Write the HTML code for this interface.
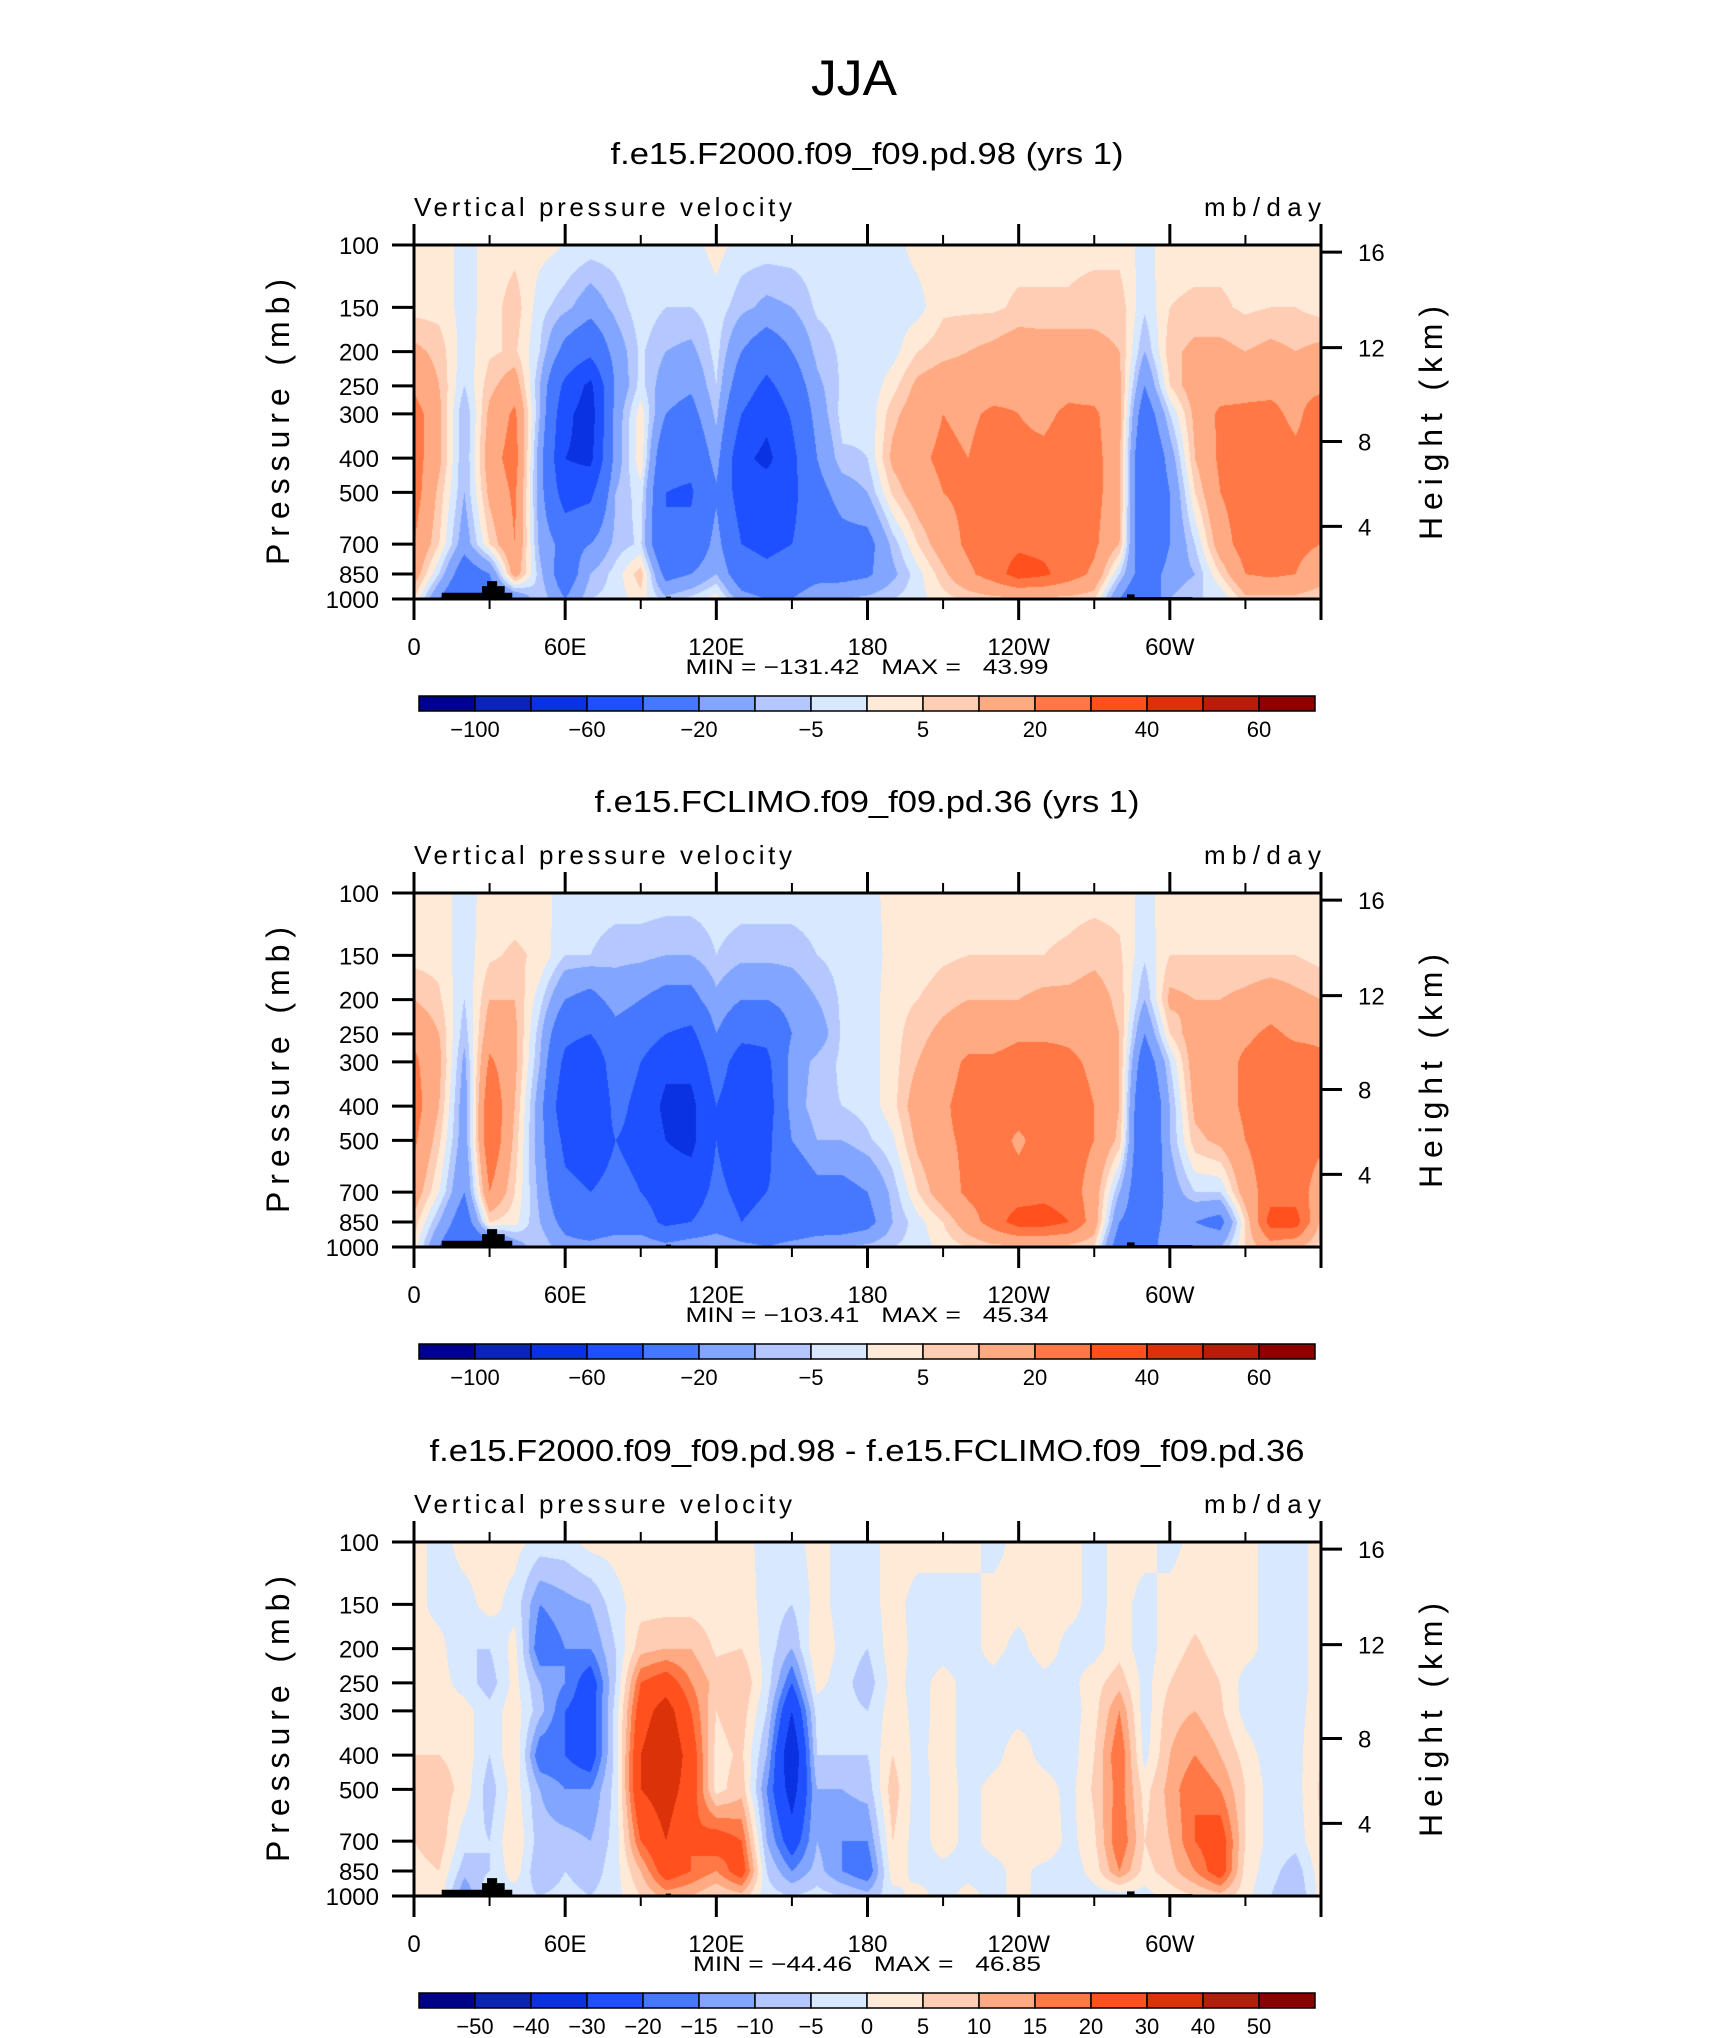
<!DOCTYPE html>
<html><head><meta charset="utf-8"><style>
body{margin:0;background:#fff;}
#wrap{position:relative;width:1710px;height:2038px;overflow:hidden;background:#fff;}
canvas{position:absolute;}
svg{position:absolute;left:0;top:0;}
text{font-family:"Liberation Sans",sans-serif;fill:#000;}
</style></head><body>
<div id="wrap">
<canvas id="c0" width="907" height="354" style="left:414px;top:245px"></canvas>
<canvas id="c1" width="907" height="354" style="left:414px;top:893px"></canvas>
<canvas id="c2" width="907" height="354" style="left:414px;top:1542px"></canvas>
<svg id="svg" width="1710" height="2038"></svg>
</div>
<script>
const pLevels=[100,150,200,250,300,400,500,700,850,1000];
const lonStep=10;
const levA=[-100,-80,-60,-40,-20,-10,-5,0,5,10,20,30,40,50,60];
const levD=[-50,-40,-30,-20,-15,-10,-5,0,5,10,15,20,30,40,50];
const labA=['−100','','−60','','−20','','−5','','5','','20','','40','','60'];
const labD=['−50','−40','−30','−20','−15','−10','−5','0','5','10','15','20','30','40','50'];
const palette=['#00018c','#0a24b4','#0a32e1','#1e50ff','#4678ff','#82a5ff','#b4c8ff','#d7e8ff','#ffead8','#ffcdb4','#ffaa82','#ff7846','#ff501e','#dc320a','#b41e0a','#8c0000'];
const titles=['f.e15.F2000.f09_f09.pd.98 (yrs 1)','f.e15.FCLIMO.f09_f09.pd.36 (yrs 1)','f.e15.F2000.f09_f09.pd.98 - f.e15.FCLIMO.f09_f09.pd.36'];
const titleLen=[513,545,875];
const minmax=['MIN = −131.42   MAX =   43.99','MIN = −103.41   MAX =   45.34','MIN = −44.46   MAX =   46.85'];
const minmaxLen=[363,363,348];
// fields: one row per longitude (0..360 step 10), values from 100mb to 1000mb
const panel1=[
[2,3,12,18,25,25,25,20,15,5],[3,3,8,10,12,12,8,5,-5,-20],[-2,-2,-3,-5,-10,-10,-10,-15,-30,-40],
[2,2,4,8,12,15,12,5,-20,-30],[3,8,6,15,22,25,22,20,15,-20],[2,-3,-5,-10,-10,-15,-15,-12,-8,-5],
[0,-8,-25,-45,-55,-60,-50,-25,-30,-20],[-2,-15,-35,-65,-70,-65,-45,-20,-10,-5],[-2,-8,-15,-18,-15,-15,-10,-8,-3,-3],
[0,-2,-4,-3,3,4,-2,-4,8,3],[-2,-5,-10,-15,-20,-35,-40,-40,-25,-8],[-2,-5,-12,-18,-25,-35,-42,-35,-20,-3],
[2,-2,-3,-5,-8,-15,-22,-15,-10,3],[-2,-8,-20,-30,-40,-55,-50,-40,-30,-15],[-2,-12,-30,-45,-55,-65,-50,-45,-35,-20],
[-2,-10,-20,-30,-38,-45,-45,-40,-30,-20],[-2,-4,-8,-12,-15,-20,-25,-30,-25,-12],[-2,-3,-4,-4,-3,-6,-15,-25,-25,-10],
[-2,-3,-4,-4,-4,-5,-10,-25,-22,-8],[-2,-3,-2,3,8,12,6,-8,-12,-5],[2,-2,5,12,15,18,15,5,-2,-2],
[3,4,8,15,20,22,20,15,8,3],[3,4,10,15,18,20,22,22,18,6],[3,4,12,15,22,25,25,25,25,8],
[3,6,15,17,20,22,25,28,35,8],[3,6,14,16,18,22,25,27,32,8],[3,6,14,17,22,25,25,25,25,8],
[3,8,12,15,22,24,24,22,18,6],[3,8,10,12,12,12,12,10,-5,-20],[-2,-4,-10,-20,-30,-40,-40,-40,-30,-40],
[3,5,8,5,-5,-15,-20,-20,-15,-10],[3,6,12,15,12,10,5,-5,-10,-5],[3,6,12,15,22,22,20,15,5,-5],
[3,4,10,17,22,25,25,25,20,8],[2,5,12,18,22,25,25,25,22,8],[2,5,10,18,18,22,22,22,20,8],
[2,3,12,18,25,25,25,20,15,5]];
const panel2=[
[2,3,10,18,22,25,22,15,8,3],[2,3,6,10,12,10,6,0,-10,-20],[-2,-3,-5,-8,-12,-15,-15,-20,-30,-40],
[2,4,10,15,22,30,30,20,5,-30],[2,6,10,12,12,10,8,5,2,-15],[2,4,-3,-8,-10,-15,-15,-12,-10,-5],
[-2,-5,-20,-35,-45,-55,-45,-35,-25,-15],[-2,-5,-25,-40,-55,-60,-50,-40,-35,-15],[-2,-8,-15,-25,-30,-35,-40,-35,-30,-10],
[-2,-8,-20,-30,-40,-45,-45,-40,-30,-10],[-2,-10,-25,-40,-55,-65,-60,-50,-45,-15],[-2,-10,-25,-45,-55,-65,-65,-50,-40,-10],
[-2,-5,-12,-20,-30,-40,-40,-35,-30,-8],[-2,-8,-20,-35,-50,-55,-55,-45,-40,-15],[-2,-8,-20,-35,-45,-50,-45,-40,-35,-20],
[-2,-8,-15,-20,-15,-15,-20,-35,-35,-15],[-2,-5,-10,-15,-8,-6,-10,-25,-30,-12],[-2,-3,-4,-4,-4,-5,-10,-25,-30,-10],
[-2,-3,-3,-3,-3,-3,-6,-20,-25,-8],[2,2,3,3,3,3,-1,-8,-10,-5],[2,2,5,8,10,15,12,5,-2,-3],
[2,4,8,12,15,18,18,15,5,2],[3,5,10,15,22,25,22,22,15,5],[3,5,10,15,22,25,25,25,25,8],
[3,5,10,18,25,25,18,25,35,8],[3,5,12,18,25,25,25,27,35,8],[3,6,12,18,22,25,25,25,30,8],
[3,8,14,16,18,20,20,15,15,5],[3,6,8,10,10,10,8,-10,-20,-30],[-2,-4,-10,-20,-30,-40,-40,-35,-30,-30],
[3,5,12,5,-5,-10,-10,-15,-15,-10],[3,5,10,15,15,12,8,-5,-20,-10],[3,5,10,15,15,15,12,-5,-25,-10],
[3,5,12,18,22,22,20,15,5,5],[2,5,15,22,25,25,25,25,35,15],[2,5,12,18,25,25,25,25,35,12],
[2,3,10,18,22,25,22,15,8,3]];
const panel3=[
[2,2,2,2,3,5,6,5,3,2],[-2,-2,2,2,2,5,8,8,5,3],[2,-2,-5,-2,2,3,3,-3,-8,-15],
[2,2,-5,-8,-3,-5,-8,-5,-5,0],[2,-2,2,2,3,5,3,5,3,-3],[-2,-15,-20,-10,-8,-20,-10,-8,-10,-5],
[-2,-12,-15,-15,-20,-20,-15,-8,-5,-3],[2,-10,-15,-25,-25,-25,-15,-10,-8,-5],[2,-2,-5,-5,-3,-3,-3,-3,-2,-2],
[2,3,8,20,25,30,30,20,10,5],[2,3,10,25,35,40,35,30,25,12],[2,3,10,15,20,25,25,20,20,10],
[2,2,4,8,5,3,3,25,15,5],[2,3,5,10,8,6,8,20,25,8],[-2,-2,-2,-2,-5,-10,-15,-10,-5,-3],
[-2,-5,-10,-20,-30,-40,-35,-25,-15,-5],[2,2,5,2,-3,-5,-10,-10,-8,-3],[-2,-2,-2,-3,-3,-5,-10,-15,-15,-5],
[-2,-2,-5,-8,-5,-5,-8,-15,-20,-8],[2,2,3,2,3,5,8,5,3,-2],[2,-2,-2,-2,-2,-2,-3,-3,-2,2],
[2,-2,-2,2,2,3,3,3,-2,-2],[2,-2,-2,-2,-2,-3,-2,-2,-2,2],[-2,2,2,-2,-2,-2,2,2,-2,-2],
[2,2,-2,-5,-2,3,3,2,2,2],[2,2,3,-2,-2,-2,3,5,-2,-2],[2,2,-2,-2,-3,-3,-2,-2,-3,-3],
[-2,-2,-2,3,3,5,6,4,2,-2],[2,2,3,8,15,20,18,20,15,-3],[2,-2,-3,-2,-3,-2,3,5,3,-2],
[-2,2,3,5,8,10,12,10,8,2],[2,3,6,8,10,15,20,20,15,5],[2,3,3,5,6,10,15,25,25,8],
[2,2,2,-2,-2,3,5,5,3,2],[-2,-2,-2,-2,-5,-3,-2,-2,-3,-5],[-2,-2,-2,-2,-2,-2,-2,-3,-8,-10],
[2,2,2,2,3,5,6,5,3,2]];
const heightTicks=[16,12,8,4];
const heightFrac=[0.02,0.29,0.555,0.795];
const lonLabels=['0','60E','120E','180','120W','60W'];

const W=907,H=354,X0=414,Ys=[245,893,1542];
const xOf=lon=>X0+lon/360*W;
const yOfP=(p,top)=>top+Math.log10(p/100)*H;
function colorIdx(v,lev){let i=0;while(i<lev.length&&v>=lev[i])i++;return i;}
function hexRgb(h){return [parseInt(h.slice(1,3),16),parseInt(h.slice(3,5),16),parseInt(h.slice(5,7),16)];}
const pal=palette.map(hexRgb);
const logL=pLevels.map(p=>Math.log10(p/100));
function drawField(cid,field,lev){
  const c=document.getElementById(cid),ctx=c.getContext('2d');
  const img=ctx.createImageData(W,H);
  for(let py=0;py<H;py++){
    const s=(py+0.5)/H;let k=0;while(k<logL.length-2&&s>logL[k+1])k++;
    const tv=Math.min(1,Math.max(0,(s-logL[k])/(logL[k+1]-logL[k])));
    for(let px=0;px<W;px++){
      const lon=(px+0.5)/W*360,i=Math.min(field.length-2,Math.floor(lon/lonStep)),th=lon/lonStep-i;
      const a=field[i][k]*(1-tv)+field[i][k+1]*tv,b=field[i+1][k]*(1-tv)+field[i+1][k+1]*tv;
      const v=a*(1-th)+b*th;const col=pal[colorIdx(v,lev)];
      const o=(py*W+px)*4;img.data[o]=col[0];img.data[o+1]=col[1];img.data[o+2]=col[2];img.data[o+3]=255;
    }
  }
  ctx.putImageData(img,0,0);
}
drawField('c0',panel1,levA);drawField('c1',panel2,levA);drawField('c2',panel3,levD);

const svg=document.getElementById('svg');const NS='http://www.w3.org/2000/svg';
function mk(tag,attrs,parent){const e=document.createElementNS(NS,tag);for(const k in attrs)e.setAttribute(k,attrs[k]);(parent||svg).appendChild(e);return e;}
function txt(s,attrs,parent){const e=mk('text',attrs,parent);e.textContent=s;return e;}

const t0=txt('JJA',{x:854,y:95,'font-size':50,'text-anchor':'middle',fill:'#333','textLength':86,'lengthAdjust':'spacingAndGlyphs'});



for(let n=0;n<3;n++){
  const top=Ys[n],bot=top+H,dy=n===2?1297:n*648;
  const g=mk('g',{});
  
  
  const tt=txt(titles[n],{x:867,y:164+dy,'font-size':31,'text-anchor':'middle',textLength:titleLen[n],lengthAdjust:'spacingAndGlyphs'},g);
  
  
  const vl=txt('Vertical pressure velocity',{x:414,y:216+dy,'font-size':26,textLength:378,lengthAdjust:'spacing'},g);
  
  
  const ul=txt('mb/day',{x:1321,y:216+dy,'font-size':26,'text-anchor':'end',textLength:117,lengthAdjust:'spacing'},g);
  
  
  const topo=mk('path',{d:`M${xOf(11)},${bot} L${xOf(11)},${yOfP(960,top)} L${xOf(27)},${yOfP(960,top)} L${xOf(27)},${yOfP(920,top)} L${xOf(29)},${yOfP(920,top)} L${xOf(29)},${yOfP(890,top)} L${xOf(33)},${yOfP(890,top)} L${xOf(33)},${yOfP(920,top)} L${xOf(36)},${yOfP(920,top)} L${xOf(36)},${yOfP(960,top)} L${xOf(39)},${yOfP(960,top)} L${xOf(39)},${bot} Z M${xOf(100)},${bot} L${xOf(100)},${yOfP(985,top)} L${xOf(102)},${yOfP(985,top)} L${xOf(102)},${bot} Z M${xOf(283)},${bot} L${xOf(283)},${yOfP(970,top)} L${xOf(286)},${yOfP(970,top)} L${xOf(286)},${yOfP(988,top)} L${xOf(309)},${yOfP(988,top)} L${xOf(309)},${bot} Z`,fill:'#000'},g);
  
  
  const fr=mk('rect',{x:X0,y:top,width:W,height:H,fill:'none',stroke:'#000','stroke-width':3},g);
  
  
  for(let lon=0;lon<=360;lon+=30){
    const major=lon%60===0,len=major?21:10,x=xOf(lon);
    const a=mk('line',{x1:x,x2:x,y1:top,y2:top-len,stroke:'#000','stroke-width':major?3:2},g);
    
    
    const b=mk('line',{x1:x,x2:x,y1:bot,y2:bot+len,stroke:'#000','stroke-width':major?3:2},g);
    
    
  }
  lonLabels.forEach((s,i)=>{
    const l=txt(s,{x:xOf(i*60),y:655+dy,'font-size':24,'text-anchor':'middle'},g);
    
    
  });
  pLevels.forEach(p=>{
    const y=yOfP(p,top);
    const t=mk('line',{x1:X0-22,x2:X0,y1:y,y2:y,stroke:'#000','stroke-width':3},g);
    
    
    const l=txt(String(p),{x:379,y:y+9,'font-size':24,'text-anchor':'end'},g);
    
    
  });
  heightTicks.forEach((h,i)=>{
    const y=top+heightFrac[i]*H;
    const t=mk('line',{x1:X0+W,x2:X0+W+21,y1:y,y2:y,stroke:'#000','stroke-width':3},g);
    
    
    const l=txt(String(h),{x:1358,y:y+9,'font-size':24},g);
    
    
  });
  const yt=txt('Pressure (mb)',{x:0,y:0,'font-size':32,'text-anchor':'middle',textLength:286,lengthAdjust:'spacing',transform:`translate(289,${422+dy}) rotate(-90)`},g);
  
  
  const ht=txt('Height (km)',{x:0,y:0,'font-size':32,'text-anchor':'middle',textLength:234,lengthAdjust:'spacing',transform:`translate(1442,${423+dy}) rotate(-90)`},g);
  
  
  const mm=txt(minmax[n],{x:867,y:674+dy,'font-size':21,'text-anchor':'middle',textLength:minmaxLen[n],lengthAdjust:'spacingAndGlyphs'},g);
  
  
  mm.style.whiteSpace='pre';
  const cb=mk('g',{},g);
  
  
  const cx0=419,cw=896/16,cy=696+dy;
  palette.forEach((c,i)=>{
    const r=mk('rect',{x:cx0+i*cw,y:cy,width:cw,height:15,fill:c,stroke:'#000','stroke-width':1.5},cb);
    
    
  });
  const labs=n===2?labD:labA;
  labs.forEach((s,i)=>{
    if(!s)return;
    const l=txt(s,{x:cx0+(i+1)*cw,y:737+dy,'font-size':22,'text-anchor':'middle'},cb);
    
    
  });
}
</script>
</body></html>
